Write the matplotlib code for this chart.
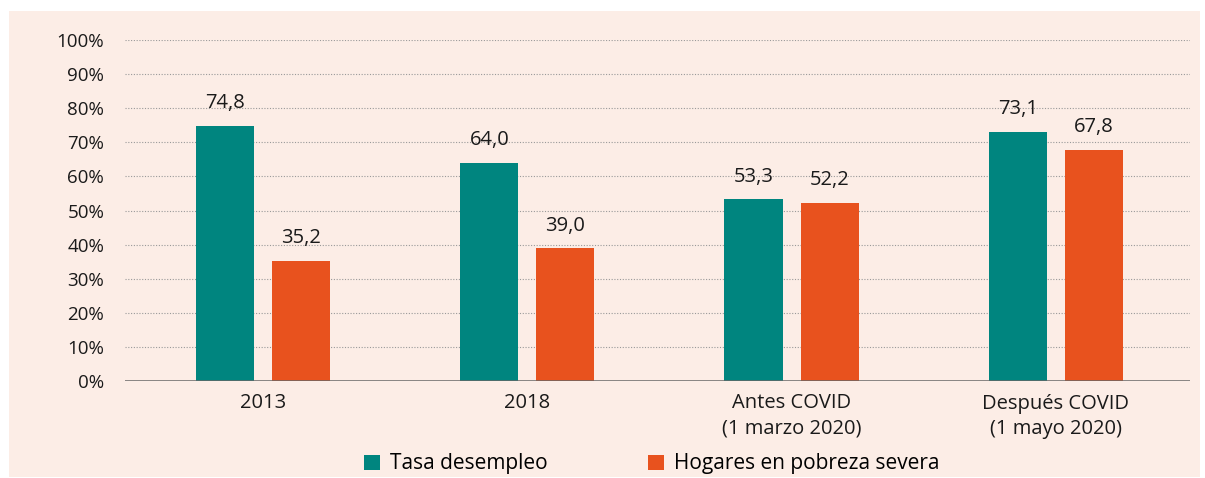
import numpy as np
import matplotlib.pyplot as plt
from matplotlib.patches import Rectangle

categorias = ["2013", "2018", "Antes COVID\n(1 marzo 2020)", "Después COVID\n(1 mayo 2020)"]
desempleo = [74.8, 64.0, 53.3, 73.1]
pobreza = [35.2, 39.0, 52.2, 67.8]
etiquetas_desempleo = ["74,8", "64,0", "53,3", "73,1"]
etiquetas_pobreza = ["35,2", "39,0", "52,2", "67,8"]
yticks = [0, 10, 20, 30, 40, 50, 60, 70, 80, 90, 100]

teal = "#00857f"
naranja = "#e8521e"
fondo = "#fcede6"

plt.rcParams['font.family'] = ['Open Sans', 'DejaVu Sans']

fig = plt.figure(figsize=(12.05, 4.78), dpi=100, facecolor="white")
fig.patches.append(Rectangle((9 / 1205, 1 / 478), 1191 / 1205, 466 / 478,
                             transform=fig.transFigure, facecolor=fondo,
                             edgecolor="none", zorder=-10))

ax = fig.add_axes([125 / 1205, 97 / 478, 1065 / 1205, 341 / 478])
ax.set_facecolor("none")

x = np.arange(len(categorias))
w = 0.22
off = 0.144
b1 = ax.bar(x - off, desempleo, w, color=teal, zorder=3, label="Tasa desempleo")
b2 = ax.bar(x + off, pobreza, w, color=naranja, zorder=3, label="Hogares en pobreza severa")

for rect, t in zip(b1, etiquetas_desempleo):
    ax.annotate(t, (rect.get_x() + rect.get_width() / 2, rect.get_height()),
                xytext=(0, 9), textcoords="offset points", ha="center",
                va="bottom", fontsize=14.5, color="#1a1a1a")
for rect, t in zip(b2, etiquetas_pobreza):
    ax.annotate(t, (rect.get_x() + rect.get_width() / 2, rect.get_height()),
                xytext=(0, 9), textcoords="offset points", ha="center",
                va="bottom", fontsize=14.5, color="#1a1a1a")

ax.set_xlim(-0.523, 3.508)
ax.set_ylim(0, 100)
ax.set_yticks(yticks)
ax.set_yticklabels([f"{v}%" for v in yticks], fontsize=13.5, color="#1a1a1a")
ax.set_xticks(x)
ax.set_xticklabels(categorias, fontsize=14.5, color="#1a1a1a", linespacing=1.35)
ax.tick_params(axis="y", length=0, pad=15)
ax.tick_params(axis="x", length=0, pad=9)

for v in yticks[1:]:
    ax.axhline(v, color="#999999", lw=0.8, ls=(0, (1, 1.5)), zorder=1)
ax.axhline(0, color="#666666", lw=1.8, zorder=4)

for s in ax.spines.values():
    s.set_visible(False)

leg = fig.legend(handles=[b1, b2], loc="center", bbox_to_anchor=(652 / 1205, 14 / 478),
                 ncol=2, frameon=False, fontsize=15, handlelength=0.75,
                 handleheight=0.75, handletextpad=0.5, columnspacing=4.8)

fig.savefig("out.png", dpi=100, facecolor="white")
